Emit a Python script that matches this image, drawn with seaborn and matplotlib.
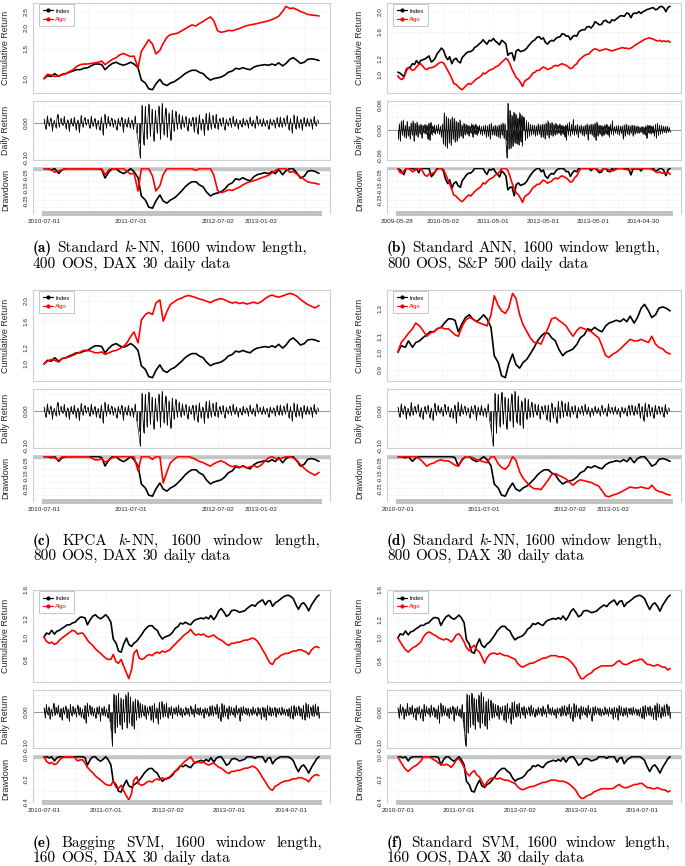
import numpy as np
import pandas as pd
import matplotlib
matplotlib.use("Agg")
import matplotlib.pyplot as plt
import matplotlib.dates as mdates
from matplotlib.lines import Line2D
import seaborn as sns

sns.set_theme(style="white")
plt.rcParams['font.family'] = ['Liberation Sans', 'DejaVu Sans']
plt.rcParams['mathtext.fontset'] = 'cm'

# ---------------- data ----------------
dax_dates = pd.date_range("2010-07-01", periods=108, freq="SMS")
dax_index = [1.00,1.04,1.03,1.07,1.03,1.06,1.07,1.09,1.11,1.13,1.13,1.15,
             1.16,1.19,1.22,1.22,1.21,1.13,1.19,1.23,1.25,1.22,1.20,1.22,
             1.25,1.22,1.16,0.98,0.94,0.87,0.86,0.93,0.99,0.93,0.91,0.94,
             0.96,0.99,1.03,1.07,1.10,1.12,1.12,1.09,1.07,1.02,0.98,1.00,
             1.01,1.02,1.05,1.09,1.11,1.15,1.14,1.16,1.14,1.13,1.17,1.19,
             1.20,1.21,1.20,1.22,1.20,1.24,1.19,1.23,1.30,1.33,1.28,1.23,
             1.25,1.30,1.31,1.30,1.28,1.29,1.30,1.33,1.36,1.38,1.36,1.40,
             1.43,1.45,1.38,1.43,1.44,1.36,1.41,1.43,1.46,1.49,1.51,1.52,
             1.50,1.47,1.38,1.32,1.39,1.41,1.36,1.30,1.38,1.43,1.49,1.52]

algo_a = [1.00,1.06,1.05,1.03,1.04,1.05,1.07,1.10,1.13,1.18,1.21,1.22,
          1.22,1.23,1.24,1.25,1.27,1.21,1.26,1.30,1.33,1.38,1.41,1.38,
          1.35,1.36,1.16,1.45,1.58,1.70,1.60,1.40,1.47,1.62,1.76,1.82,
          1.84,1.86,1.92,1.97,2.03,2.08,2.05,2.12,2.18,2.25,2.32,2.20,
          1.92,1.88,1.90,1.93,1.92,1.95,1.98,2.02,2.06,2.08,2.10,2.12,
          2.15,2.17,2.20,2.24,2.28,2.34,2.50,2.68,2.60,2.62,2.56,2.50,
          2.45,2.40,2.38,2.37,2.35]

algo_c = [1.00,1.03,1.05,1.04,1.02,1.06,1.07,1.08,1.10,1.12,1.14,1.16,
          1.16,1.15,1.13,1.13,1.14,1.11,1.13,1.15,1.16,1.18,1.21,1.26,
          1.35,1.42,1.26,1.62,1.72,1.76,1.72,1.95,2.02,1.60,1.78,1.92,
          1.98,2.03,2.06,2.10,2.12,2.10,2.07,2.04,2.02,1.99,1.96,2.00,
          2.03,2.05,2.02,1.98,1.95,1.97,1.94,1.96,1.93,1.95,1.97,1.94,
          1.98,2.04,2.10,2.13,2.10,2.08,2.11,2.14,2.17,2.15,2.10,2.03,
          1.97,1.92,1.88,1.85,1.90]

algo_d = [1.00,1.06,1.09,1.12,1.15,1.19,1.17,1.14,1.10,1.12,1.13,1.15,
          1.16,1.15,1.15,1.13,1.11,1.10,1.17,1.21,1.23,1.22,1.20,1.19,
          1.18,1.17,1.25,1.40,1.32,1.28,1.26,1.30,1.42,1.38,1.25,1.18,
          1.13,1.09,1.06,1.06,1.05,1.10,1.16,1.22,1.23,1.21,1.19,1.17,
          1.13,1.10,1.14,1.16,1.15,1.14,1.13,1.11,1.09,1.04,0.98,0.97,
          0.99,1.00,1.02,1.04,1.06,1.08,1.07,1.07,1.08,1.07,1.06,1.10,
          1.05,1.03,1.02,1.00,0.99]

algo_e = [1.00,0.96,0.94,0.95,0.93,0.94,0.97,0.99,1.01,1.03,1.05,1.07,
          1.06,1.03,1.04,1.04,1.01,0.97,0.94,0.92,0.89,0.87,0.85,0.83,
          0.81,0.80,0.80,0.84,0.78,0.77,0.80,0.75,0.70,0.66,0.72,0.85,
          0.88,0.81,0.80,0.81,0.83,0.84,0.83,0.85,0.86,0.85,0.87,0.86,
          0.87,0.88,0.91,0.93,0.96,0.98,1.01,1.03,1.05,1.08,1.04,1.02,
          1.03,1.02,1.03,1.01,1.00,1.01,1.02,1.00,0.98,0.97,0.95,0.93,
          0.92,0.94,0.94,0.95,0.95,0.96,0.97,0.97,0.98,0.99,0.98,0.96,
          0.92,0.88,0.84,0.80,0.77,0.76,0.80,0.81,0.83,0.84,0.85,0.85,
          0.86,0.87,0.87,0.88,0.88,0.87,0.86,0.84,0.88,0.90,0.91,0.90]

algo_f = [1.00,0.96,0.92,0.89,0.87,0.89,0.91,0.92,0.94,0.96,1.01,1.04,
          1.06,1.05,1.03,1.02,1.00,0.99,0.98,0.99,0.98,0.96,0.99,1.03,
          1.04,1.01,0.96,0.91,0.88,0.91,0.93,0.89,0.87,0.83,0.78,0.82,
          0.85,0.86,0.86,0.85,0.86,0.85,0.84,0.84,0.83,0.82,0.81,0.78,
          0.76,0.75,0.76,0.77,0.78,0.78,0.79,0.80,0.81,0.82,0.82,0.83,
          0.84,0.84,0.84,0.83,0.83,0.83,0.82,0.81,0.79,0.77,0.74,0.70,
          0.67,0.67,0.69,0.70,0.71,0.73,0.74,0.75,0.76,0.76,0.76,0.76,
          0.76,0.77,0.79,0.80,0.78,0.77,0.77,0.78,0.79,0.80,0.80,0.81,
          0.81,0.79,0.77,0.77,0.76,0.76,0.77,0.76,0.75,0.75,0.73,0.74]

sp_dates = pd.date_range("2009-06-01", periods=132, freq="SMS")
sp_index = [1.03,1.02,1.00,0.98,1.06,1.08,1.09,1.13,1.12,1.17,1.13,1.17,1.18,1.19,
            1.21,1.23,1.15,1.17,1.20,1.26,1.30,1.34,1.31,1.23,1.18,1.22,
            1.13,1.18,1.20,1.16,1.14,1.21,1.24,1.27,1.29,1.29,1.31,1.35,
            1.37,1.40,1.43,1.47,1.43,1.40,1.46,1.45,1.49,1.45,1.42,1.39,
            1.46,1.44,1.40,1.24,1.27,1.27,1.17,1.30,1.32,1.29,1.30,1.31,
            1.34,1.38,1.42,1.45,1.47,1.51,1.52,1.48,1.50,1.43,1.40,1.44,
            1.46,1.45,1.49,1.51,1.52,1.57,1.56,1.53,1.53,1.47,1.52,1.54,
            1.53,1.60,1.63,1.64,1.64,1.69,1.70,1.67,1.72,1.79,1.76,1.73,
            1.74,1.80,1.82,1.78,1.77,1.83,1.81,1.84,1.88,1.91,1.91,1.90,
            1.97,1.96,1.87,1.95,1.97,1.96,2.00,1.96,2.00,2.02,2.05,2.06,
            2.08,2.09,2.04,2.06,2.11,2.12,2.08,2.00,2.10,2.12]

algo_b = [0.99,0.96,0.95,0.97,1.04,1.08,1.07,1.05,1.06,1.09,1.12,1.13,1.10,1.07,
          1.06,1.08,1.08,1.09,1.10,1.12,1.14,1.15,1.14,1.10,1.05,1.01,
          0.96,0.91,0.90,0.88,0.86,0.85,0.87,0.89,0.91,0.90,0.92,0.94,
          0.96,0.97,0.99,1.02,1.01,1.03,1.05,1.06,1.07,1.09,1.10,1.12,
          1.15,1.17,1.20,1.18,1.12,1.06,1.01,0.97,0.95,0.92,0.88,0.93,
          0.95,0.96,0.99,1.02,1.03,1.05,1.05,1.07,1.09,1.08,1.06,1.07,
          1.08,1.10,1.11,1.10,1.12,1.13,1.12,1.11,1.09,1.07,1.08,1.11,
          1.13,1.17,1.20,1.22,1.24,1.25,1.26,1.29,1.32,1.33,1.32,1.30,
          1.31,1.32,1.33,1.32,1.31,1.30,1.31,1.32,1.33,1.34,1.35,1.34,
          1.34,1.33,1.34,1.36,1.38,1.40,1.42,1.44,1.46,1.48,1.49,1.50,
          1.49,1.48,1.46,1.45,1.46,1.44,1.45,1.44,1.45,1.43]

dax_daily = [0.012,-0.018,0.021,-0.009,0.015,-0.022,0.008,-0.013,0.025,-0.011,
             0.014,-0.007,0.019,-0.016,0.010,-0.024,0.013,-0.008,0.017,-0.019,
             0.009,-0.027,0.022,-0.012,0.016,-0.006,0.011,-0.015,0.020,-0.010,
             0.013,-0.017,0.008,-0.021,0.018,-0.034,0.026,-0.014,0.019,-0.009,
             0.015,-0.012,0.010,-0.020,0.014,-0.008,0.017,-0.026,0.012,-0.011,
             0.016,-0.013,0.009,-0.018,0.021,-0.030,-0.058,-0.100,0.052,-0.062,
             0.048,-0.045,0.055,-0.038,0.041,-0.052,0.036,-0.029,0.050,-0.047,
             0.057,-0.033,0.044,-0.041,0.030,-0.050,0.038,-0.024,0.034,-0.018,
             0.026,-0.016,0.021,-0.012,0.019,-0.022,0.014,-0.009,0.017,-0.025,
             0.018,-0.031,0.024,-0.019,0.012,-0.035,0.028,-0.021,0.030,-0.016,
             0.022,-0.014,0.026,-0.018,0.013,-0.010,0.016,-0.020,0.011,-0.008,
             0.015,-0.012,0.020,-0.009,0.012,-0.016,0.008,-0.011,0.014,-0.007,
             0.010,-0.013,0.017,-0.008,0.009,-0.015,0.021,-0.006,0.011,-0.010,
             0.013,-0.009,0.008,-0.018,0.012,-0.007,0.010,-0.014,0.016,-0.011,
             0.018,-0.012,0.015,-0.008,0.022,-0.019,0.013,-0.028,0.024,-0.016,
             0.020,-0.013,0.011,-0.021,0.017,-0.010,0.014,-0.009,0.012,-0.017,
             0.019,-0.008,0.010,-0.027,0.014,-0.011,0.016,-0.006,0.012,-0.009,
             0.011,-0.014,0.008,-0.010,0.015,-0.007,0.009,-0.012,0.013,-0.008,
             0.010,-0.022,0.014,-0.016,0.012,-0.024,0.018,-0.011,0.015,-0.013,
             0.011,-0.009,0.013,-0.015,0.010,-0.008,0.012,-0.010,0.014,-0.007,
             0.009,-0.011,0.008,-0.013,0.011,-0.019,0.016,-0.021,0.018,-0.012,
             0.014,-0.010,0.017,-0.013,0.011,-0.022,0.019,-0.024,0.026,-0.015,
             0.021,-0.018,0.015,-0.012,0.020,-0.014,0.023,-0.011,0.016,-0.019]
dax_daily_dates = pd.date_range("2010-07-01", "2014-12-15", periods=len(dax_daily))

sp_daily = [0.018,-0.022,0.015,-0.026,0.021,-0.012,0.024,-0.016,0.011,-0.019,
            0.020,-0.014,0.009,-0.021,0.017,-0.011,0.022,-0.027,0.016,-0.013,
            0.019,-0.017,0.012,-0.009,0.014,-0.020,0.011,-0.008,0.013,-0.010,
            0.012,-0.022,0.016,-0.025,0.018,-0.011,0.010,-0.007,0.012,-0.009,
            0.011,-0.008,0.013,-0.010,0.009,-0.016,0.014,-0.033,0.041,-0.038,
            0.032,-0.043,0.028,-0.030,0.025,-0.036,0.031,-0.022,0.027,-0.029,
            0.021,-0.026,0.018,-0.019,0.024,-0.015,0.012,-0.020,0.016,-0.011,
            0.013,-0.009,0.011,-0.014,0.010,-0.008,0.015,-0.017,0.012,-0.010,
            0.014,-0.012,0.009,-0.007,0.011,-0.010,0.008,-0.013,0.010,-0.009,
            0.012,-0.018,0.010,-0.015,0.013,-0.021,0.016,-0.011,0.009,-0.012,
            0.011,-0.014,0.010,-0.016,0.012,-0.019,0.014,-0.011,0.017,-0.020,
            0.015,-0.025,-0.066,0.063,-0.045,0.046,-0.044,0.035,-0.039,0.042,
            -0.031,0.038,-0.033,0.029,-0.035,0.041,-0.028,0.034,-0.037,0.030,
            0.029,-0.025,0.022,-0.019,0.018,-0.015,0.013,-0.011,0.012,-0.010,
            0.011,-0.014,0.010,-0.012,0.015,-0.009,0.012,-0.018,0.013,-0.016,
            0.014,-0.021,0.017,-0.013,0.022,-0.019,0.016,-0.012,0.018,-0.015,
            0.013,-0.011,0.016,-0.010,0.012,-0.008,0.014,-0.013,0.011,-0.009,
            0.010,-0.016,0.012,-0.024,0.015,-0.011,0.019,-0.014,0.013,-0.010,
            0.025,-0.012,0.011,-0.009,0.013,-0.018,0.010,-0.008,0.012,-0.011,
            0.009,-0.014,0.011,-0.010,0.015,-0.023,0.012,-0.009,0.014,-0.011,
            0.013,-0.017,0.016,-0.025,0.019,-0.014,0.012,-0.010,0.011,-0.015,
            0.010,-0.013,0.012,-0.009,0.014,-0.012,0.009,-0.016,0.013,-0.010,
            0.022,-0.011,0.008,-0.007,0.010,-0.009,0.011,-0.012,0.009,-0.008,
            0.010,-0.021,0.012,-0.015,0.014,-0.009,0.011,-0.012,0.010,-0.008,
            0.012,-0.014,0.011,-0.010,0.009,-0.007,0.010,-0.008,0.007,-0.006,
            0.008,-0.009,0.007,-0.011,0.010,-0.020,0.012,-0.008,0.011,-0.009,
            0.009,-0.007,0.010,-0.015,0.013,-0.019,0.016,-0.013,0.012,-0.010,
            0.011,-0.008,0.009,-0.006,0.008,-0.007,0.009,-0.005,0.006,-0.004]
sp_daily_dates = pd.date_range("2009-05-28", "2014-11-15", periods=len(sp_daily))

ticks_short = ["2010-07-01","2011-01-03","2011-07-01","2012-01-02","2012-07-02","2013-01-02","2013-07-01"]
labels_short = ["2010-07-01","","2011-07-01","","2012-07-02","2013-01-02",""]
ticks_sp = ["2009-05-28","2009-11-02","2010-05-02","2010-11-01","2011-05-01","2011-11-01",
            "2012-05-01","2012-11-01","2013-05-01","2013-11-01","2014-04-30","2014-11-03"]
labels_sp = ["2009-05-28","","2010-05-02","","2011-05-01","","2012-05-01","","2013-05-01","","2014-04-30",""]
ticks_long = ["2010-07-01","2011-01-03","2011-07-01","2012-01-02","2012-07-02","2013-01-02",
              "2013-07-01","2014-01-02","2014-07-01"]
labels_long = ["2010-07-01","","2011-07-01","","2012-07-02","","2013-07-01","","2014-07-01"]

# ---------------- layout ----------------
W, H = 685, 866
fig = plt.figure(figsize=(W/100, H/100), dpi=100)
fig.patch.set_facecolor('white')

cols = [(33, 330), (387, 681)]
rows = [dict(cum=(3, 93), daily=(101, 160), dd=(167, 213), cap=(252, 268)),
        dict(cum=(290, 381), daily=(389, 448), dd=(455, 501), cap=(545, 560)),
        dict(cum=(590, 682), daily=(690, 748), dd=(755, 802), cap=(847, 862))]

FRAME = '#cfcfcf'
TXT = '#262626'
CAP_SIZE = 11.0


def make_ax(col, yr):
    x0, x1 = cols[col]
    yt, yb = yr
    return fig.add_axes([x0/W, 1 - yb/H, (x1 - x0)/W, (yb - yt)/H])


def base_style(ax, xlim, xticks):
    ax.set_facecolor('white')
    for s in ax.spines.values():
        s.set_color(FRAME)
        s.set_linewidth(0.8)
    ax.set_xlim(*xlim)
    ax.set_xticks(xticks)
    ax.grid(True, color='#e4e4e4', lw=0.5, ls=':')
    ax.tick_params(axis='x', length=0, labelbottom=False)
    ax.tick_params(axis='y', which='major', length=2.2, width=0.5, color='#999999',
                   labelsize=4.6, pad=1.2, labelcolor=TXT)
    ax.tick_params(axis='y', which='minor', length=0)
    ax.set_xlabel('')


def set_yticks(ax, ticks, labels, size=4.6):
    ax.set_yticks(ticks)
    ax.set_yticklabels(labels)
    ax.yaxis.set_minor_locator(matplotlib.ticker.NullLocator())
    for lab in ax.get_yticklabels():
        lab.set_rotation(90)
        lab.set_va('center')
        lab.set_fontsize(size)


def ylabel(ax, text, axw):
    ax.set_ylabel(text, fontsize=6.4, color=TXT)
    ax.yaxis.set_label_coords(-23/axw, 0.5)


def place_words(words, x0, y, size, right=None, color='black'):
    rend = fig.canvas.get_renderer()
    texts = []
    for i, w in enumerate(words):
        fam = 'cmb10' if (i == 0 and w.startswith('(') and len(w) == 3) else 'cmr10'
        texts.append(fig.text(0, 1 - y/H, w, fontsize=size, family=fam, va='baseline',
                              ha='left', color=color))
    widths = [t.get_window_extent(rend).width for t in texts]
    space = 0.333 * size * 100 / 72
    if right is not None and len(words) > 1:
        space = (right - x0 - sum(widths)) / (len(words) - 1)
    x = x0
    for t, w in zip(texts, widths):
        t.set_x(x / W)
        x += w + space


def panel(col, row, dates, idx, algo, d_dates, d_vals, cum_t, cum_l, day_t, day_l,
          dd_t, dd_l, xt, xl, cap1, cap2, cap_right):
    r = rows[row]
    x0, x1 = cols[col]
    axw = x1 - x0
    dates = pd.DatetimeIndex(dates)
    n0, n1 = mdates.date2num(dates[0]), mdates.date2num(dates[-1])
    pad = 0.04 * (n1 - n0)
    xlim = (n0 - pad, n1 + pad)
    xticks = mdates.date2num(pd.to_datetime(xt))

    idx = np.asarray(idx, float)
    algo = np.asarray(algo, float)

    # ---- cumulative return (log scale) ----
    ax1 = make_ax(col, r['cum'])
    sns.lineplot(x=dates, y=idx, ax=ax1, color='black', lw=1.2, legend=False)
    sns.lineplot(x=dates, y=algo, ax=ax1, color='#ff0000', lw=1.2, legend=False)
    ax1.set_yscale('log')
    lo = np.log(min(idx.min(), algo.min()))
    hi = np.log(max(idx.max(), algo.max()))
    p = 0.04 * (hi - lo)
    ax1.set_ylim(np.exp(lo - p), np.exp(hi + p))
    base_style(ax1, xlim, xticks)
    set_yticks(ax1, cum_t, cum_l)
    ylabel(ax1, 'Cumulative Return', axw)
    handles = [Line2D([], [], color='black', lw=0.9, marker='o', ms=2),
               Line2D([], [], color='#ff0000', lw=0.9, marker='o', ms=2)]
    leg = ax1.legend(handles, ['Index', 'Algo'], loc='upper left',
                     bbox_to_anchor=(6/axw, 0.985), fontsize=4.2, frameon=True,
                     fancybox=False, edgecolor='#bbbbbb', framealpha=1,
                     handlelength=1.7, handletextpad=0.4, borderpad=0.7,
                     labelspacing=0.6, borderaxespad=0)
    leg.get_frame().set_linewidth(0.6)
    for t, c in zip(leg.get_texts(), ['black', '#ff0000']):
        t.set_color(c)

    # ---- daily return ----
    ax2 = make_ax(col, r['daily'])
    d_dates = pd.DatetimeIndex(d_dates)
    d_vals = np.asarray(d_vals, float)
    m = (d_dates >= dates[0]) & (d_dates <= dates[-1])
    dd_x = d_dates[m]
    dd_v = d_vals[m]
    ax2.axhline(0, color='#9a9a9a', lw=0.8, zorder=1)
    ax2.vlines(mdates.date2num(dd_x), 0, dd_v, color='black', lw=0.6, zorder=2)
    sns.lineplot(x=dd_x, y=dd_v, ax=ax2, color='black', lw=0.45, legend=False, zorder=2)
    lo, hi = dd_v.min(), dd_v.max()
    p = 0.04 * (hi - lo)
    ax2.set_ylim(lo - p, hi + p)
    base_style(ax2, xlim, xticks)
    set_yticks(ax2, day_t, day_l)
    ylabel(ax2, 'Daily Return', axw)

    # ---- drawdown ----
    ax3 = make_ax(col, r['dd'])
    s_i = pd.Series(idx)
    s_a = pd.Series(algo)
    dd_i = (s_i / s_i.cummax() - 1).values
    dd_a = (s_a / s_a.cummax() - 1).values
    ax3.axhline(0, color='#c4c4c4', lw=2.4, zorder=1)
    sns.lineplot(x=dates, y=dd_i, ax=ax3, color='black', lw=1.2, legend=False)
    sns.lineplot(x=dates, y=dd_a, ax=ax3, color='#ff0000', lw=1.2, legend=False)
    lo = min(dd_i.min(), dd_a.min())
    p = 0.04 * (0 - lo)
    ax3.set_ylim(lo - p, p)
    base_style(ax3, xlim, xticks)
    set_yticks(ax3, dd_t, dd_l, size=4.0)
    ylabel(ax3, 'Drawdown', axw)
    ax3.set_xticklabels(xl)
    ax3.tick_params(axis='x', length=3.5, width=0.8, color='#808080', direction='inout',
                    labelbottom=True, labelsize=4.6, pad=2.5, labelcolor=TXT)
    sp = ax3.spines['bottom']
    sp.set_bounds(n0, n1)
    sp.set_linewidth(3.6)
    sp.set_color('#c2c2c2')

    # ---- caption ----
    place_words(cap1, x0, r['cap'][0], CAP_SIZE, right=cap_right)
    place_words(cap2, x0, r['cap'][1], CAP_SIZE)


dd_t3 = [-0.35, -0.30, -0.25, -0.20, -0.15, -0.10, -0.05, 0.0]
dd_l3 = ["", "", "-0.25", "", "-0.15", "", "-0.05", ""]
day_t1 = [-0.10, -0.05, 0.0, 0.05]
day_l1 = ["-0.10", "", "0.00", ""]

# (a)
panel(0, 0, dax_dates[:77], dax_index[:77], algo_a, dax_daily_dates, dax_daily,
      [1.0, 1.5, 2.0, 2.5], ["1.0", "1.5", "2.0", "2.5"], day_t1, day_l1,
      dd_t3, dd_l3, ticks_short, labels_short,
      ["(a)", "Standard", "$k$-NN,", "1600", "window", "length,"],
      ["400", "OOS,", "DAX", "30", "daily", "data"], None)
# (b)
panel(1, 0, sp_dates, sp_index, algo_b, sp_daily_dates, sp_daily,
      [1.0, 1.2, 1.6, 2.0], ["1.0", "1.2", "1.6", "2.0"],
      [-0.06, -0.03, 0.0, 0.03, 0.06], ["-0.06", "", "0.00", "", "0.06"],
      dd_t3, dd_l3, ticks_sp, labels_sp,
      ["(b)", "Standard", "ANN,", "1600", "window", "length,"],
      ["800", "OOS,", "S&P", "500", "daily", "data"], None)
# (c)
panel(0, 1, dax_dates[:77], dax_index[:77], algo_c, dax_daily_dates, dax_daily,
      [1.0, 1.2, 1.6, 2.0], ["1.0", "1.2", "1.6", "2.0"], day_t1, day_l1,
      dd_t3, dd_l3, ticks_short, labels_short,
      ["(c)", "KPCA", "$k$-NN,", "1600", "window", "length,"],
      ["800", "OOS,", "DAX", "30", "daily", "data"], 320)
# (d)
panel(1, 1, dax_dates[:77], dax_index[:77], algo_d, dax_daily_dates, dax_daily,
      [0.9, 1.0, 1.1, 1.3], ["0.9", "1.0", "1.1", "1.3"], day_t1, day_l1,
      dd_t3, dd_l3, ticks_short, labels_short,
      ["(d)", "Standard", "$k$-NN,", "1600", "window", "length,"],
      ["800", "OOS,", "DAX", "30", "daily", "data"], None)
# (e)
panel(0, 2, dax_dates, dax_index, algo_e, dax_daily_dates, dax_daily,
      [0.8, 1.0, 1.2, 1.6], ["0.8", "1.0", "1.2", "1.6"], day_t1, day_l1,
      [-0.4, -0.3, -0.2, -0.1, 0.0], ["-0.4", "", "-0.2", "", "0.0"], ticks_long, labels_long,
      ["(e)", "Bagging", "SVM,", "1600", "window", "length,"],
      ["160", "OOS,", "DAX", "30", "daily", "data"], 322)
# (f)
panel(1, 2, dax_dates, dax_index, algo_f, dax_daily_dates, dax_daily,
      [0.8, 1.0, 1.2, 1.6], ["0.8", "1.0", "1.2", "1.6"], day_t1, day_l1,
      [-0.4, -0.3, -0.2, -0.1, 0.0], ["-0.4", "", "-0.2", "", "0.0"], ticks_long, labels_long,
      ["(f)", "Standard", "SVM,", "1600", "window", "length,"],
      ["160", "OOS,", "DAX", "30", "daily", "data"], 670)

fig.savefig("out.png", dpi=100, facecolor='white')
